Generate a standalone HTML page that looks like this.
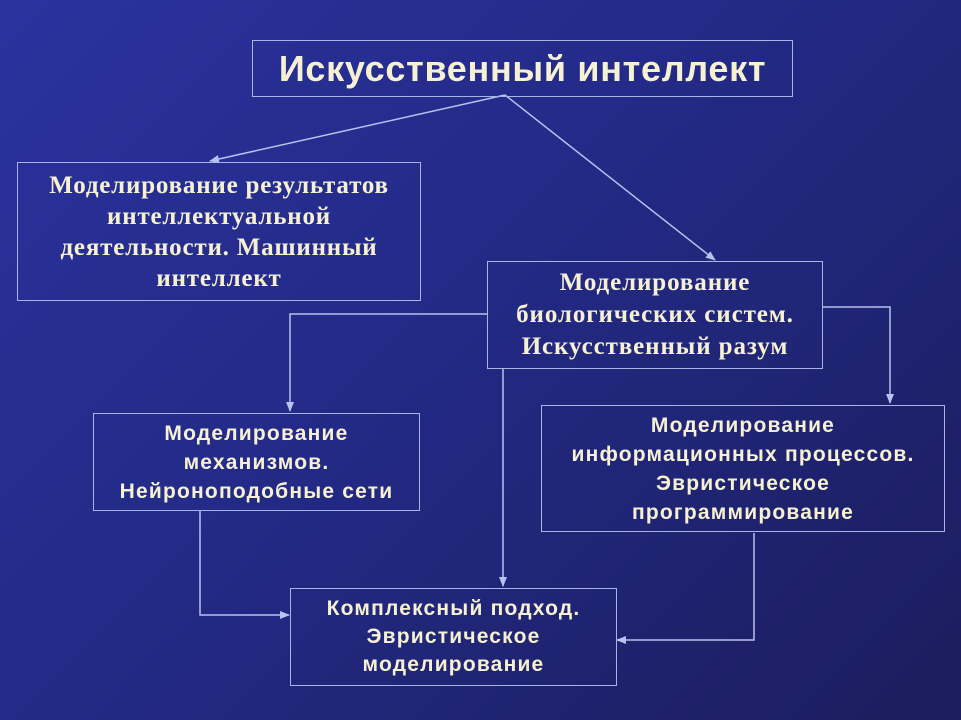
<!DOCTYPE html>
<html><head><meta charset="utf-8"><style>
body{margin:0;width:961px;height:720px;overflow:hidden;background:linear-gradient(135deg,#2a329e 0%,#232a86 45%,#1b1d5c 100%);position:relative}
.b{position:absolute;border:1.5px solid #a9b4e6;box-sizing:border-box;color:#f6f1d2;text-align:center;display:flex;align-items:center;justify-content:center;font-weight:bold;white-space:nowrap}
.s{font-family:"Liberation Sans","Noto Sans CJK SC",sans-serif}
.r{font-family:"Liberation Serif","Noto Serif CJK SC",serif}
svg{position:absolute;left:0;top:0}
</style></head><body>
<svg width="961" height="720"><defs><marker id="a" markerWidth="10" markerHeight="8" refX="9" refY="4" orient="auto" markerUnits="userSpaceOnUse"><path d="M0,0L10,4L0,8z" fill="#b7c2ee"/></marker></defs>
<g stroke="#b7c2ee" stroke-width="1.5" fill="none">
<line x1="505" y1="95" x2="210" y2="161" marker-end="url(#a)"/>
<line x1="505" y1="95" x2="715" y2="260" marker-end="url(#a)"/>
<polyline points="487,314 290,314 290,411" marker-end="url(#a)"/>
<polyline points="822,307 890,307 890,403" marker-end="url(#a)"/>
<polyline points="503,368 503,586" marker-end="url(#a)"/>
<polyline points="200,511 200,615 289,615" marker-end="url(#a)"/>
<polyline points="754,533 754,640 617,640" marker-end="url(#a)"/>
</g></svg>
<div class="b s" style="left:252px;top:40px;width:541px;height:57px;font-size:36px;letter-spacing:0.7px">Искусственный интеллект</div>
<div class="b r" style="left:17px;top:162px;width:404px;height:139px;font-size:25px;line-height:31px;letter-spacing:0.8px">Моделирование результатов<br>интеллектуальной<br>деятельности. Машинный<br>интеллект</div>
<div class="b r" style="left:487px;top:261px;width:336px;height:108px;font-size:25px;line-height:32px;letter-spacing:0.9px">Моделирование<br>биологических систем.<br>Искусственный разум</div>
<div class="b s" style="left:93px;top:413px;width:327px;height:98px;font-size:21px;line-height:29px;letter-spacing:1.2px">Моделирование<br>механизмов.<br>Нейроноподобные сети</div>
<div class="b s" style="left:541px;top:405px;width:404px;height:127px;font-size:21px;line-height:29px;letter-spacing:1.2px">Моделирование<br>информационных процессов.<br>Эвристическое<br>программирование</div>
<div class="b s" style="left:290px;top:588px;width:327px;height:98px;font-size:21px;line-height:28px;letter-spacing:1.2px">Комплексный подход.<br>Эвристическое<br>моделирование</div>
</body></html>
